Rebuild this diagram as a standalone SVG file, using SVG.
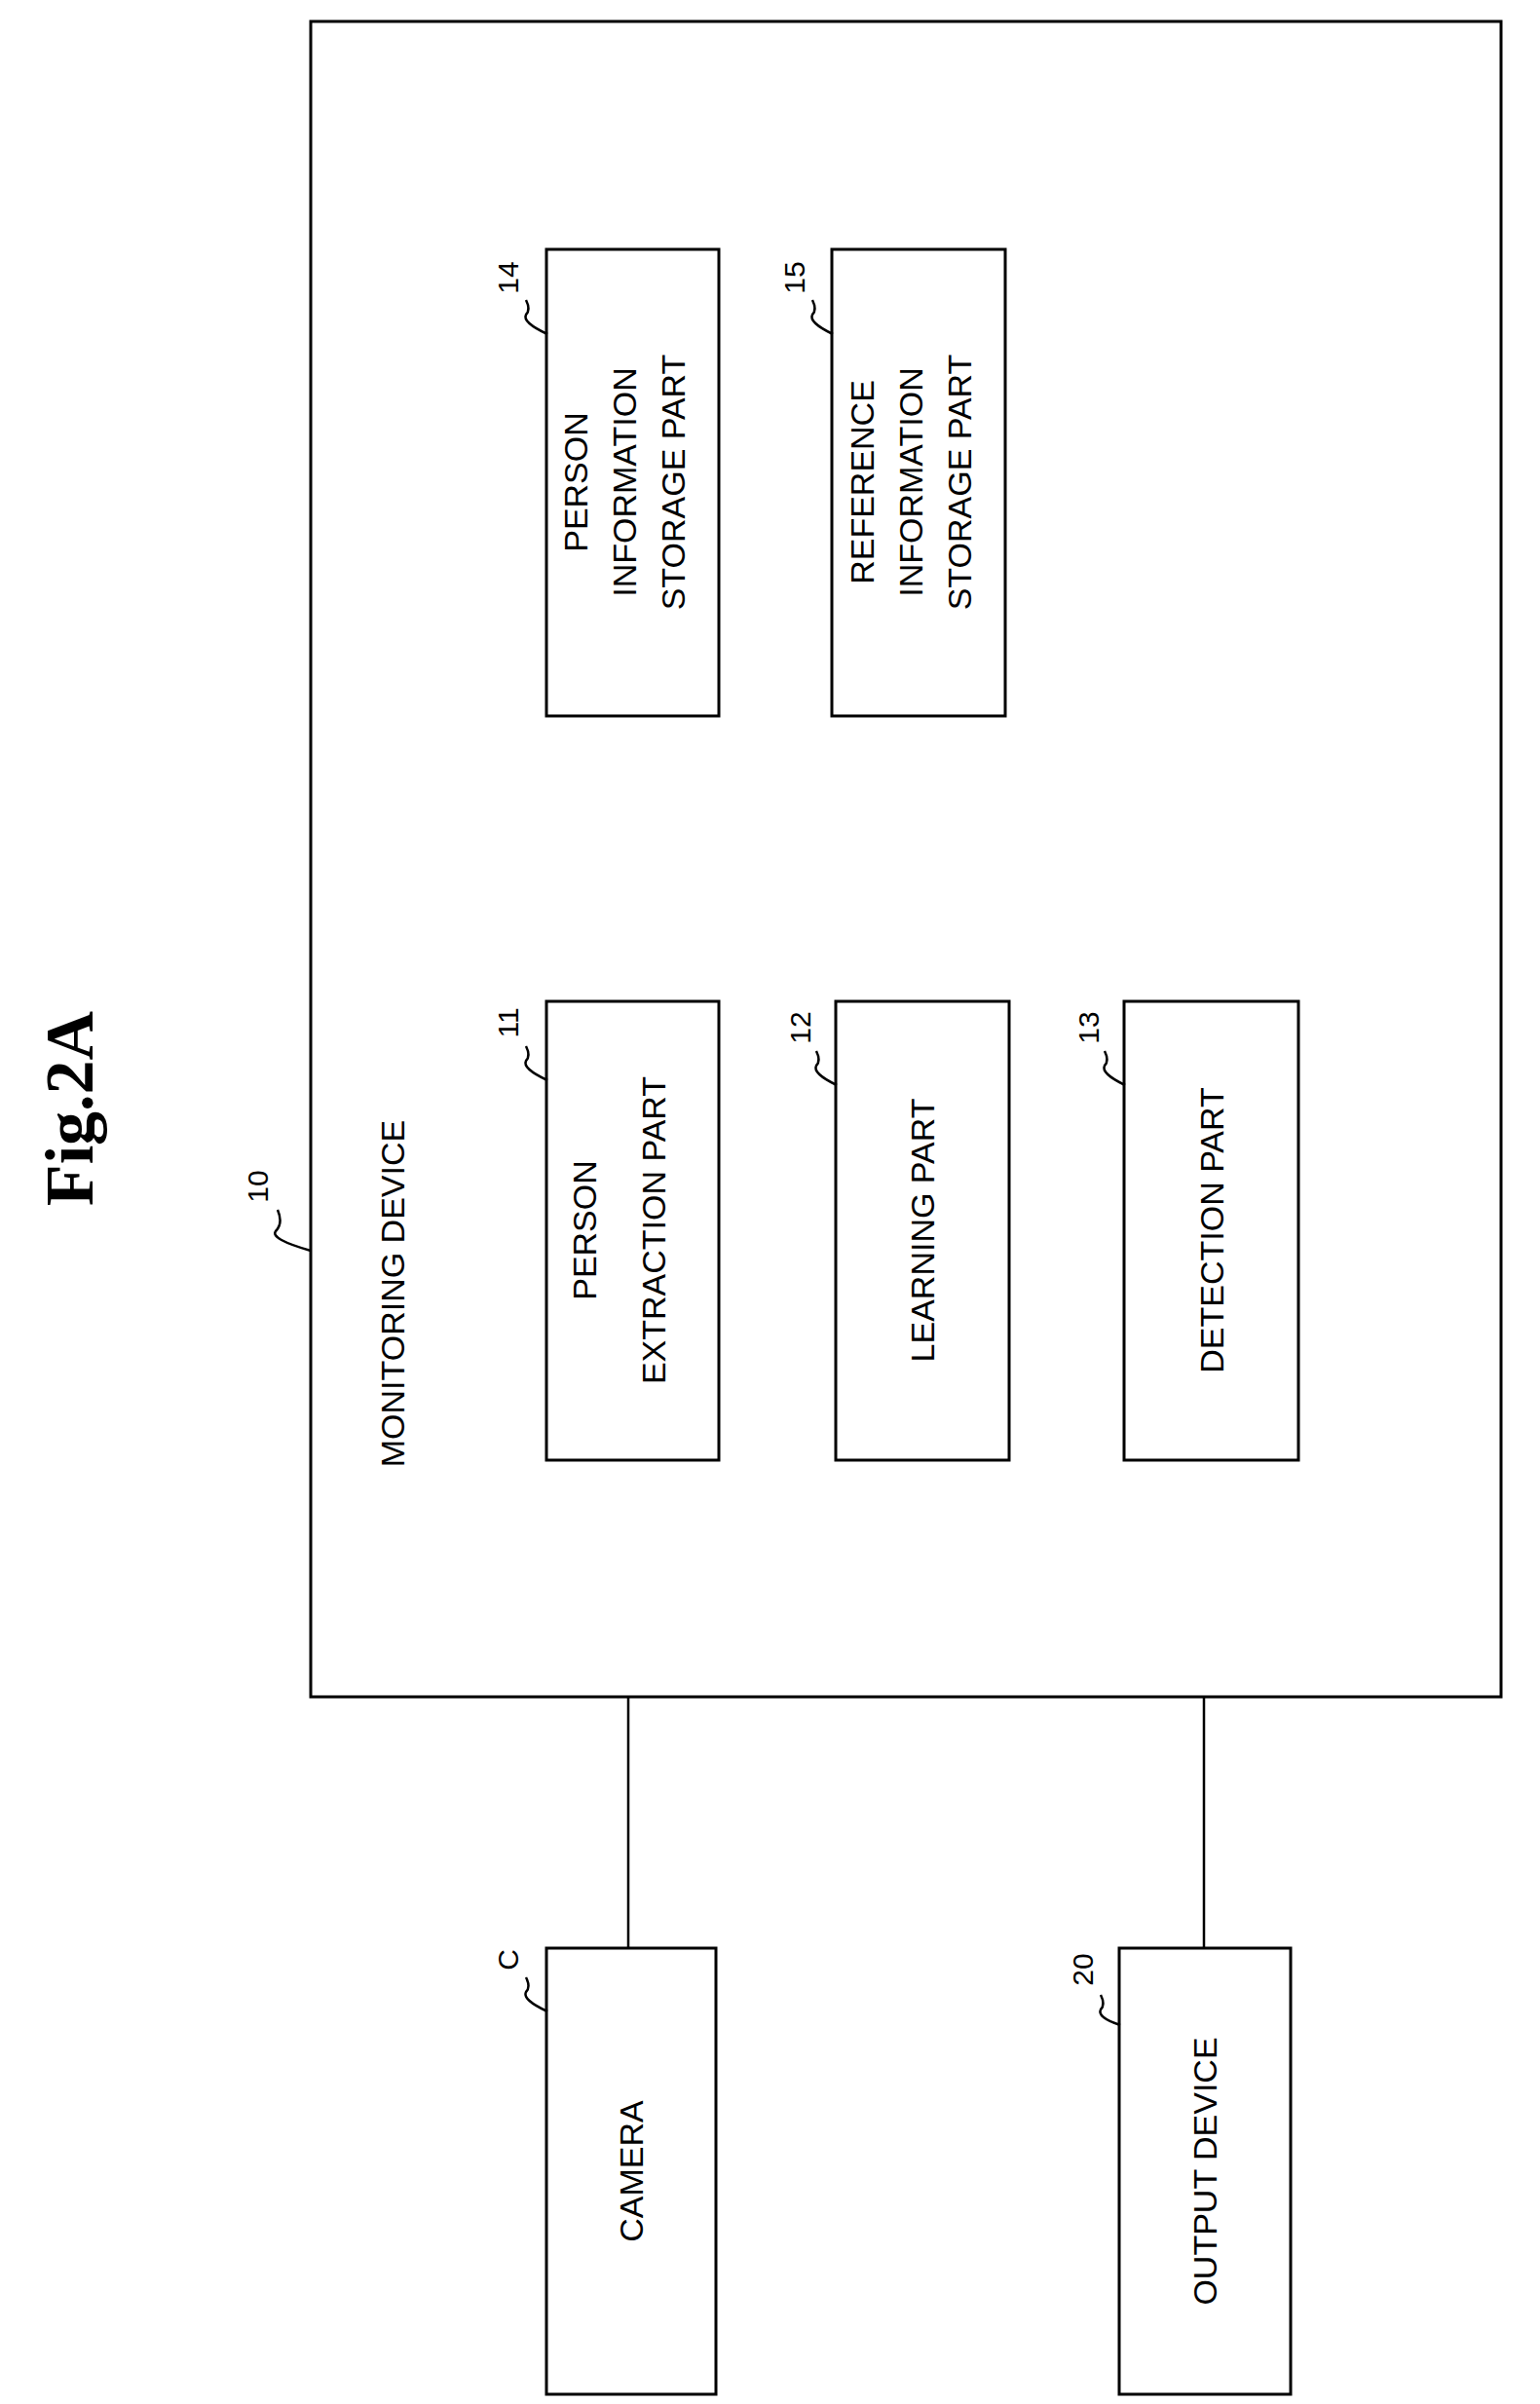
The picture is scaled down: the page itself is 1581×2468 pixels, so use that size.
<svg xmlns="http://www.w3.org/2000/svg" width="1581" height="2468" viewBox="0 0 1581 2468">
<style>
.b{fill:#fff;stroke:#000;stroke-width:3}
.t{font-family:"Liberation Sans",Arial,sans-serif;font-size:34px;fill:#000;text-anchor:middle}
.l{font-family:"Liberation Sans",Arial,sans-serif;font-size:30px;fill:#000;text-anchor:middle}
.c{fill:none;stroke:#000;stroke-width:2.5}
</style>
<rect width="1581" height="2468" fill="#fff"/>
<text transform="translate(95,1138) rotate(-90)" style="font-family:'Liberation Serif',serif;font-size:70px;font-weight:bold;text-anchor:middle">Fig.2A</text>
<g id="connectors">
<line class="c" x1="645" y1="1742" x2="645" y2="2000"/>
<line class="c" x1="1236" y1="1742" x2="1236" y2="2000"/>
</g>
<g id="n10"><rect class="b" x="319" y="22" width="1222" height="1720"/>
<text class="t" transform="translate(415,1328) rotate(-90)">MONITORING DEVICE</text>
<text class="l" transform="translate(275,1218) rotate(-90)">10</text>
<path class="c" d="M285,1242 q6,14 -2,22 q-6,8 36,20"/></g>
<g id="nC"><rect class="b" x="561" y="2000" width="174" height="458"/>
<text class="t" transform="translate(660,2229) rotate(-90)">CAMERA</text>
<text class="l" transform="translate(532,2012) rotate(-90)">C</text>
<path class="c" d="M540,2030 q5,10 0,15 q-4,8 22,20"/></g>
<g id="n20"><rect class="b" x="1149" y="2000" width="176" height="458"/>
<text class="t" transform="translate(1249,2229) rotate(-90)">OUTPUT DEVICE</text>
<text class="l" transform="translate(1122,2022) rotate(-90)">20</text>
<path class="c" d="M1130,2048 q5,10 0,15 q-4,8 20,16"/></g>
<g id="n11"><rect class="b" x="561" y="1028" width="177" height="471"/>
<text class="t" transform="translate(612,1263) rotate(-90)">PERSON</text>
<text class="t" transform="translate(683,1263) rotate(-90)">EXTRACTION PART</text>
<text class="l" transform="translate(532,1050) rotate(-90)">11</text>
<path class="c" d="M540,1074 q5,10 0,15 q-4,8 22,20"/></g>
<g id="n12"><rect class="b" x="858" y="1028" width="178" height="471"/>
<text class="t" transform="translate(959,1263) rotate(-90)">LEARNING PART</text>
<text class="l" transform="translate(832,1055) rotate(-90)">12</text>
<path class="c" d="M838,1079 q5,10 0,15 q-4,8 21,20"/></g>
<g id="n13"><rect class="b" x="1154" y="1028" width="179" height="471"/>
<text class="t" transform="translate(1256,1263) rotate(-90)">DETECTION PART</text>
<text class="l" transform="translate(1128,1055) rotate(-90)">13</text>
<path class="c" d="M1134,1079 q5,10 0,15 q-4,8 21,20"/></g>
<g id="n14"><rect class="b" x="561" y="256" width="177" height="479"/>
<text class="t" transform="translate(603,495) rotate(-90)">PERSON</text>
<text class="t" transform="translate(653,495) rotate(-90)">INFORMATION</text>
<text class="t" transform="translate(703,495) rotate(-90)">STORAGE PART</text>
<text class="l" transform="translate(532,285) rotate(-90)">14</text>
<path class="c" d="M540,308 q5,10 0,15 q-4,8 22,20"/></g>
<g id="n15"><rect class="b" x="854" y="256" width="178" height="479"/>
<text class="t" transform="translate(897,495) rotate(-90)">REFERENCE</text>
<text class="t" transform="translate(947,495) rotate(-90)">INFORMATION</text>
<text class="t" transform="translate(997,495) rotate(-90)">STORAGE PART</text>
<text class="l" transform="translate(826,285) rotate(-90)">15</text>
<path class="c" d="M834,308 q5,10 0,15 q-4,8 21,20"/></g>
</svg>
